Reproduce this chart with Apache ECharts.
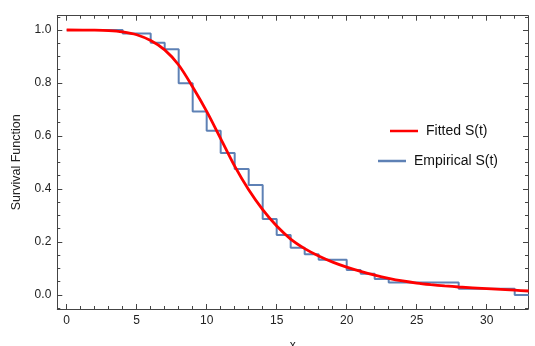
<!DOCTYPE html>
<html>
<head>
<meta charset="utf-8">
<script src="https://cdn.jsdelivr.net/npm/echarts@6/dist/echarts.min.js"></script>
<style>html,body{margin:0;padding:0;background:#fff;}#c{width:535px;height:346px;}</style>
</head>
<body>
<div id="c"></div>
<script>
// Empirical step function: time where each level starts, and the level
const empT = [0, 4, 6, 7, 8, 9, 10, 11, 12, 13, 14, 15, 16, 17, 18, 20, 21, 22, 23, 28, 32, 33];
const empS = [1.0, 0.987, 0.952, 0.927, 0.799, 0.692, 0.62, 0.536, 0.475, 0.415, 0.287, 0.226, 0.178, 0.154, 0.133, 0.094, 0.08, 0.06, 0.047, 0.023, 0.0, 0.0];
// Fitted curve
const fitT = [0, 2, 3, 4, 5, 6, 7, 8, 9, 10, 11, 12, 13, 14, 15, 16, 17, 18, 19, 20, 21, 22, 23, 24, 25, 26, 27, 28, 30, 32, 33];
const fitS = [1.0, 0.9995, 0.998, 0.993, 0.982, 0.96, 0.925, 0.868, 0.785, 0.693, 0.59, 0.486, 0.397, 0.322, 0.26, 0.211, 0.175, 0.147, 0.124, 0.105, 0.089, 0.075, 0.063, 0.053, 0.045, 0.039, 0.034, 0.03, 0.024, 0.018, 0.015];
const xMajor = [0, 5, 10, 15, 20, 25, 30];
const xMinor = [0,1,2,3,4,5,6,7,8,9,10,11,12,13,14,15,16,17,18,19,20,21,22,23,24,25,26,27,28,29,30,31,32];
const yMajor = [0, 0.2, 0.4, 0.6, 0.8, 1.0];
const yMinor = [-0.05,0,0.05,0.1,0.15,0.2,0.25,0.3,0.35,0.4,0.45,0.5,0.55,0.6,0.65,0.7,0.75,0.8,0.85,0.9,0.95,1.0,1.05];

const XMIN = -0.67, XMAX = 32.95, YMIN = -0.053, YMAX = 1.054;
const frameColor = '#444';
const fontFam = '"Liberation Sans", Arial, sans-serif';

function xAx(pos, ticks, len, showLabel, showLine, extra) {
  return Object.assign({
    type: 'value', position: pos, min: XMIN, max: XMAX,
    axisLine: { show: showLine, onZero: false, lineStyle: { color: frameColor, width: 1 } },
    axisTick: { show: true, inside: true, length: len, customValues: ticks, lineStyle: { color: frameColor, width: 1 } },
    axisLabel: { show: showLabel, customValues: ticks, color: '#222', fontSize: 12, fontFamily: fontFam, margin: 6,
      formatter: v => String(Math.round(v)) },
    splitLine: { show: false }
  }, extra || {});
}
function yAx(pos, ticks, len, showLabel, showLine, extra) {
  return Object.assign({
    type: 'value', position: pos, min: YMIN, max: YMAX,
    axisLine: { show: showLine, onZero: false, lineStyle: { color: frameColor, width: 1 } },
    axisTick: { show: true, inside: true, length: len, customValues: ticks, lineStyle: { color: frameColor, width: 1 } },
    axisLabel: { show: showLabel, customValues: ticks, color: '#222', fontSize: 12, fontFamily: fontFam, margin: 6,
      formatter: v => v.toFixed(1) },
    splitLine: { show: false }
  }, extra || {});
}

const chart = echarts.init(document.getElementById('c'), null, { renderer: 'canvas' });
chart.setOption({
  animation: false,
  backgroundColor: '#fff',
  grid: { left: 57.3, right: 7, top: 15.7, bottom: 37, containLabel: false, outerBoundsMode: 'none' },
  xAxis: [
    xAx('bottom', xMajor, 5, true, true, { name: 'x', nameLocation: 'middle', nameGap: 31,
      nameTextStyle: { color: '#222', fontSize: 12, fontFamily: fontFam } }),
    xAx('bottom', xMinor, 3, false, false),
    xAx('top', xMajor, 5, false, true),
    xAx('top', xMinor, 3, false, false)
  ],
  yAxis: [
    yAx('left', yMajor, 5, true, true, { name: 'Survival Function', nameLocation: 'middle', nameGap: 34, nameRotate: 90,
      nameTextStyle: { color: '#222', fontSize: 12.5, fontFamily: fontFam } }),
    yAx('left', yMinor, 3, false, false),
    yAx('right', yMajor, 5, false, true),
    yAx('right', yMinor, 3, false, false)
  ],
  legend: [
    { data: ['Fitted S(t)'], left: 390, top: 124, padding: 0, icon: 'rect', itemWidth: 28, itemHeight: 2.5, itemGap: 8,
      textStyle: { color: '#111', fontSize: 14, fontFamily: fontFam, padding: [0, 0, 0, 3] } },
    { data: ['Empirical S(t)'], left: 378, top: 154, padding: 0, icon: 'rect', itemWidth: 28, itemHeight: 2.5, itemGap: 8,
      textStyle: { color: '#111', fontSize: 14, fontFamily: fontFam, padding: [0, 0, 0, 3] } }
  ],
  series: [
    {
      name: 'Empirical S(t)', type: 'line', step: 'end', xAxisIndex: 0, yAxisIndex: 0,
      data: empT.map((t, i) => [t, empS[i]]),
      showSymbol: false, symbol: 'none',
      lineStyle: { color: '#5E81B5', width: 2 }, itemStyle: { color: '#5E81B5' }, z: 2
    },
    {
      name: 'Fitted S(t)', type: 'line', xAxisIndex: 0, yAxisIndex: 0,
      data: fitT.map((t, i) => [t, fitS[i]]),
      smooth: 0.3, showSymbol: false, symbol: 'none',
      lineStyle: { color: '#FF0000', width: 2.8 }, itemStyle: { color: '#FF0000' }, z: 3
    }
  ]
});
</script>
</body>
</html>
